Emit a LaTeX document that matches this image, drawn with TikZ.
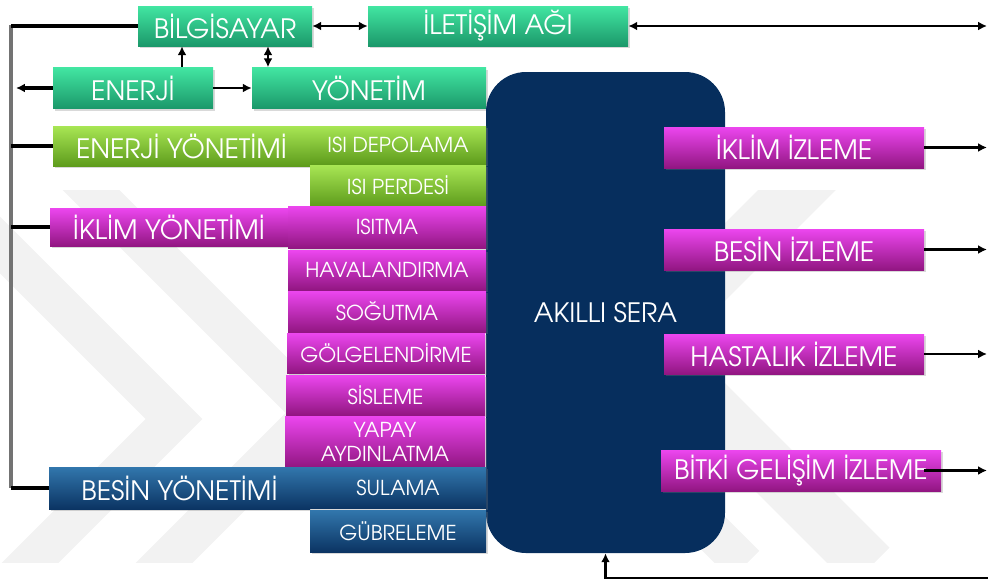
\documentclass[tikz,border=0pt]{standalone}
\usepackage{fontspec}
\setmainfont{texgyreadventor-regular.otf}
\usetikzlibrary{arrows.meta,shadows}

\definecolor{tealtop}{HTML}{42E6A2}
\definecolor{tealbot}{HTML}{1B986A}
\definecolor{limetop}{HTML}{A8E654}
\definecolor{limebot}{HTML}{5E9C1C}
\definecolor{pinktop}{HTML}{EC46EF}
\definecolor{pinkbot}{HTML}{921682}
\definecolor{bluetop}{HTML}{3277AD}
\definecolor{bluebot}{HTML}{0B3463}
\definecolor{seranavy}{HTML}{062E5D}

\tikzset{
  boxsize/.style 2 args={minimum width=#1*0.02cm, minimum height=#2*0.02cm},
  plate/.style={rectangle, inner sep=0pt, text=white, align=center,
    font=\fontsize{15.2}{17}\selectfont,
    drop shadow={shadow xshift=1.2pt, shadow yshift=-1.2pt, opacity=0.3}},
  small/.style={font=\fontsize{11.7}{13.6}\selectfont},
  tealbox/.style={plate, top color=tealtop, bottom color=tealbot},
  limebox/.style={plate, top color=limetop, bottom color=limebot},
  pinkbox/.style={plate, top color=pinktop, bottom color=pinkbot},
  bluebox/.style={plate, top color=bluetop, bottom color=bluebot},
  wmark/.style={draw=black!5, line width=#1, miter limit=10},
}

\begin{document}
\begin{tikzpicture}[x=0.02cm, y=-0.02cm, >={Latex[length=5pt,width=5pt]}]
  \useasboundingbox (0,0) rectangle (988,583);

  \begin{scope}
    \clip (0,190) rectangle (988,562);
    \draw [wmark=0.8cm] (-100,145) -- (174,419) -- (-100,693);
    \draw [wmark=0.8cm] (50,149) -- (314,413) -- (50,677);
    \draw [wmark=1.1cm] (850,137) -- (645,342) -- (870,567);
    \draw [wmark=0.8cm] (600,420) -- (745,565);
  \end{scope}

  \node [tealbox, boxsize={174}{40}] (bilgi) at (225,26) {BİLGİSAYAR};
  \node [tealbox, boxsize={260}{40}] (iletisim) at (498,26) {İLETİŞİM AĞI};
  \node [tealbox, boxsize={160}{41}] (enerji) at (133,88) {ENERJİ};
  \node [tealbox, boxsize={234}{41}] (yonetim) at (369,88) {YÖNETİM};

  \node [rectangle, rounded corners=0.8cm, fill=seranavy, text=white,
    font=\fontsize{15.2}{17}\selectfont, boxsize={239}{481}] (sera) at (605.5,312.5) {AKILLI SERA};

  \node [limebox, boxsize={257}{40}] (enerjiyon) at (181.5,146) {ENERJİ YÖNETİMİ};
  \node [limebox, small, boxsize={176}{38}] (isidepo) at (398,145) {ISI DEPOLAMA};
  \node [limebox, small, boxsize={176}{41}] (isiperde) at (398,185.5) {ISI PERDESİ};

  \node [pinkbox, boxsize={238}{38}] (iklimyon) at (169,227) {İKLİM YÖNETİMİ};
  \node [pinkbox, small, boxsize={198}{42}] (isitma) at (387,227) {ISITMA};
  \node [pinkbox, small, boxsize={198}{40}] (havalan) at (387,270) {HAVALANDIRMA};
  \node [pinkbox, small, boxsize={198}{41}] (sogutma) at (387,311.5) {SOĞUTMA};
  \node [pinkbox, small, boxsize={198}{40}] (golge) at (386,353) {GÖLGELENDİRME};
  \node [pinkbox, small, boxsize={199}{40}] (sisleme) at (385.5,395) {SİSLEME};
  \node [pinkbox, small, boxsize={200}{51}] (aydin) at (385,441.5) {YAPAY\\AYDINLATMA};

  \node [bluebox, boxsize={261}{42}] (besinyon) at (179.5,488) {BESİN YÖNETİMİ};
  \node [bluebox, small, boxsize={176}{41}] (sulama) at (398,487.5) {SULAMA};
  \node [bluebox, small, boxsize={176}{42}] (gubre) at (398,531) {GÜBRELEME};

  \node [pinkbox, boxsize={260}{41}] (iklimiz) at (794,147.5) {İKLİM İZLEME};
  \node [pinkbox, boxsize={260}{41}] (besiniz) at (794,249.5) {BESİN İZLEME};
  \node [pinkbox, boxsize={260}{40}] (hastaiz) at (794,354) {HASTALIK İZLEME};
  \node [pinkbox, boxsize={280}{41}] (bitkiiz) at (801,470.5) {BİTKİ GELİŞİM İZLEME};

  \coordinate (bustop) at (11,25);
  \coordinate (busend) at (11,488);
  \coordinate (leftend) at (16,88);
  \coordinate (rightend) at (987,0);
  \coordinate (feedin) at (988,578);

  \draw [black!55, line width=1.8pt] (bustop) -- (busend);
  \draw [line width=2pt] (bilgi.west) -- (bilgi.west -| bustop);
  \draw [line width=2pt] (enerjiyon.west) -- (enerjiyon.west -| bustop);
  \draw [line width=2pt] (iklimyon.west) -- (iklimyon.west -| bustop);
  \draw [line width=2pt] (besinyon.west) -- (besinyon.west -| bustop);
  \draw [->, line width=2pt] (enerji.west) -- (leftend);

  \draw [<->, line width=0.8pt] (bilgi.east) -- (iletisim.west);
  \draw [<->, line width=1.4pt] (iletisim.east) -- (iletisim.east -| rightend);
  \draw [->, line width=0.8pt] ([xshift=0.98cm]enerji.north) -- ([xshift=0.98cm]enerji.north |- bilgi.south);
  \draw [<->, line width=0.8pt] ([xshift=0.86cm]bilgi.south) -- ([xshift=0.86cm]bilgi.south |- yonetim.north);
  \draw [->, line width=0.8pt] (enerji.east) -- (yonetim.west);

  \draw [->, line width=1.5pt] (iklimiz.east) -- (iklimiz.east -| rightend);
  \draw [->, line width=1.5pt] (besiniz.east) -- (besiniz.east -| rightend);
  \draw [->, line width=1.5pt] (hastaiz.east) -- (hastaiz.east -| rightend);
  \draw [->, line width=1.5pt] ([xshift=-0.34cm]bitkiiz.east) -- (bitkiiz.east -| rightend);
  \draw [->, line width=1.5pt] (feedin) -| (sera.south);
\end{tikzpicture}
\end{document}
